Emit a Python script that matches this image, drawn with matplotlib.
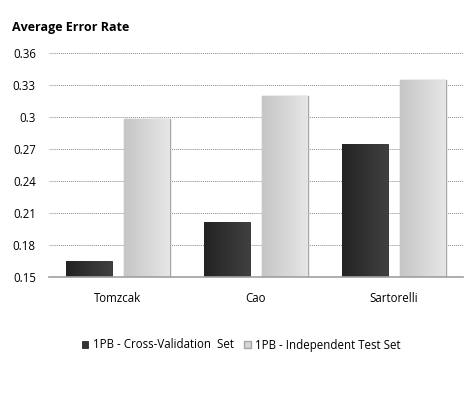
import matplotlib.pyplot as plt
import matplotlib.colors as mcolors
import numpy as np

# Values.
methods = ['Tomzcak', 'Cao', 'Sartorelli']
cross_val = [0.165, 0.202, 0.275]
indep_test = [0.298, 0.320, 0.335]
series_names = ['1PB - Cross-Validation  Set', '1PB - Independent Test Set']
y_ticks = [0.15, 0.18, 0.21, 0.24, 0.27, 0.30, 0.33, 0.36]

plt.rcParams['font.family'] = ['Open Sans', 'DejaVu Sans']
plt.rcParams['font.size'] = 8.3

fig = plt.figure(figsize=(4.77, 3.98), dpi=100)
ax = fig.add_axes([49 / 477, 1 - 277 / 398, 414 / 477, 224 / 398])

x = np.arange(len(methods))
w = 0.333
bars1 = ax.bar(x - 0.21, cross_val, w, bottom=0, color='#333333',
               edgecolor='#2a2a2a', linewidth=0.6, label=series_names[0],
               zorder=3)
bars2 = ax.bar(x + 0.21, indep_test, w, bottom=0, color='#d6d6d6',
               edgecolor='#a6a6a6', linewidth=1.0, label=series_names[1],
               zorder=3)


# Soft left-to-right shading inside each bar, like the original.
def shade(bars, c0, c1):
    cmap = mcolors.LinearSegmentedColormap.from_list('g', [c0, c1])
    grad = np.linspace(0, 1, 64).reshape(1, -1)
    for b in bars:
        x0, y0 = b.get_x(), 0.15
        x1, y1 = x0 + b.get_width(), b.get_height()
        im = ax.imshow(grad, cmap=cmap, aspect='auto',
                       extent=[x0, x1, y0, y1], zorder=3.5)
        im.set_clip_path(b)


shade(bars1, '#232323', '#404040')
shade(bars2, '#c6c6c6', '#e6e6e6')

ax.set_xlim(-0.5, len(methods) - 0.5)
ax.set_ylim(0.15, 0.36)
ax.set_yticks(y_ticks)
ax.set_yticklabels(['%g' % v for v in y_ticks])
ax.set_xticks(x)
ax.set_xticklabels(methods)
ax.tick_params(axis='both', length=0)
ax.tick_params(axis='y', pad=9.5)
ax.tick_params(axis='x', pad=11)

ax.grid(axis='y', linestyle=(0, (1, 1)), color='#8c8c8c', linewidth=0.7,
        zorder=0)
for side in ['left', 'right', 'top']:
    ax.spines[side].set_visible(False)
ax.spines['bottom'].set_color('#a0a0a0')
ax.spines['bottom'].set_linewidth(1.2)
ax.spines['bottom'].set_zorder(4)

fig.text(12 / 477, 1 - 28 / 398, 'Average Error Rate', fontsize=9,
         fontweight='bold', va='center', ha='left')

fig.legend(loc='center', bbox_to_anchor=(241 / 477, 1 - 345 / 398),
           ncol=2, frameon=False, handlelength=0.6, handleheight=0.6,
           handletextpad=0.35, columnspacing=0.9)

plt.savefig('out.png', dpi=100)
